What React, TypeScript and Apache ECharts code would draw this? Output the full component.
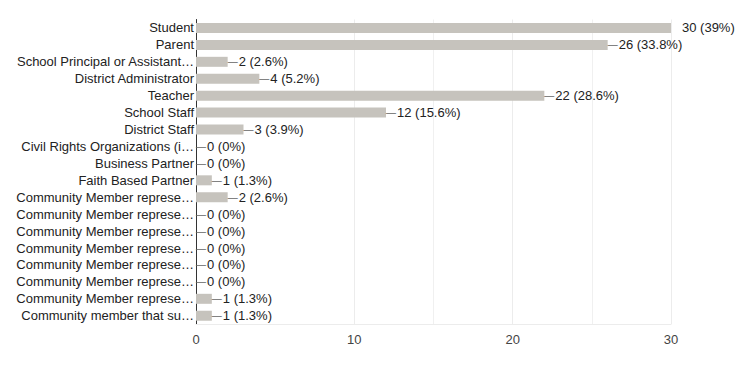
import React, { useEffect, useRef } from "react";
import * as echarts from "echarts";

const categories = [
  "Student",
  "Parent",
  "School Principal or Assistant…",
  "District Administrator",
  "Teacher",
  "School Staff",
  "District Staff",
  "Civil Rights Organizations (i…",
  "Business Partner",
  "Faith Based Partner",
  "Community Member represe…",
  "Community Member represe…",
  "Community Member represe…",
  "Community Member represe…",
  "Community Member represe…",
  "Community Member represe…",
  "Community Member represe…",
  "Community member that su…",
];
const counts = [30, 26, 2, 4, 22, 12, 3, 0, 0, 1, 2, 0, 0, 0, 0, 0, 1, 1];
const percents = ["39", "33.8", "2.6", "5.2", "28.6", "15.6", "3.9", "0", "0", "1.3", "2.6", "0", "0", "0", "0", "0", "1.3", "1.3"];
const xTicks = [0, 10, 20, 30];
const extraGridValues = [15, 25];

const FONT = "'Liberation Sans', Arial, sans-serif";

export default function App() {
  const ref = useRef<HTMLDivElement>(null);
  useEffect(() => {
    if (!ref.current) return;
    const chart = echarts.init(ref.current, null, { renderer: "svg" });
    const maxVal = Math.max(...counts);
    chart.setOption({
      animation: false,
      textStyle: { fontFamily: FONT },
      grid: {
        left: 196,
        right: 79,
        top: 19.5,
        bottom: 49.8,
        containLabel: false,
        outerBoundsMode: "none",
      },
      xAxis: {
        type: "value",
        min: xTicks[0],
        max: xTicks[xTicks.length - 1],
        interval: 10,
        axisLine: { show: true, lineStyle: { color: "#ececec", width: 1 } },
        axisTick: { show: false },
        axisLabel: { color: "#444", fontSize: 13, fontFamily: FONT, margin: 9 },
        splitLine: { show: true, lineStyle: { color: "#ececec", width: 1 } },
      },
      yAxis: {
        type: "category",
        data: categories,
        inverse: true,
        axisLine: { show: true, lineStyle: { color: "#333", width: 1 } },
        axisTick: { show: false },
        axisLabel: { color: "#222", fontSize: 13, fontFamily: FONT, margin: 2 },
        splitLine: { show: false },
      },
      series: [
        {
          type: "bar",
          data: counts,
          barWidth: 10,
          itemStyle: { color: "#c6c3bd" },
          label: {
            show: true,
            position: "right",
            distance: 0,
            fontFamily: FONT,
            fontSize: 13,
            color: "#222",
            formatter: (p: any) => {
              const txt = `${counts[p.dataIndex]} (${percents[p.dataIndex]}%)`;
              return counts[p.dataIndex] === maxVal ? `{h|—}{t|${txt}}` : `{d|—}{t|${txt}}`;
            },
            rich: {
              d: { color: "#666", fontSize: 10, fontFamily: FONT, padding: [0, 1, 0, 0] },
              h: { color: "rgba(0,0,0,0)", fontSize: 10, fontFamily: FONT, padding: [0, 1, 0, 0] },
              t: { color: "#222", fontSize: 13, fontFamily: FONT },
            },
          },
          markLine: {
            silent: true,
            symbol: "none",
            label: { show: false },
            lineStyle: { color: "#f0f0f0", type: "solid", width: 1 },
            data: extraGridValues.map((v) => ({ xAxis: v })),
            z: 0,
          },
        },
      ],
    });
    return () => chart.dispose();
  }, []);
  return (
    <div
      ref={ref}
      style={{ position: "fixed", left: 0, top: 0, width: 750, height: 374, background: "#fff" }}
    />
  );
}
